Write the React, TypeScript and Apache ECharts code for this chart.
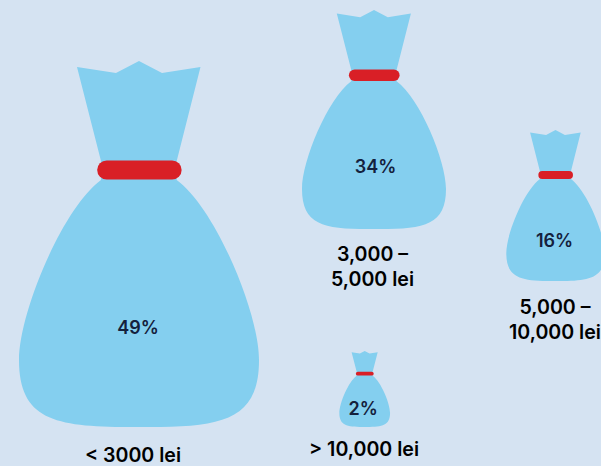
import React, { useEffect, useRef } from "react";
import * as echarts from "echarts";

// Monthly income brackets and the share of respondents in each
const categories = ["< 3000 lei", "3,000 –\n5,000 lei", "5,000 –\n10,000 lei", "> 10,000 lei"];
const shares = [49, 34, 16, 2];

// Placement of each money bag, in page pixels
const bagCenterX = [139, 374, 555.5, 364.7];
const bagTopY = [61, 10, 130, 351];
const bagWidth = [240, 144, 98.4, 50.7];
const bagHeight = [366, 219, 151, 76];
const shareLabelDy = [72.7, 71.4, 73, 75];
const shareLabelDx = [-1, 1.5, -1, -1.5];

// Placement of the bracket captions
const captionX = [133, 372.5, 555, 364];
const captionY = [455, 266.5, 319, 449];

const BAG_PATH =
  "path://M58,6 L97,12 L120,0 L143,12 L181.5,6 L157.7,100 L157.7,119 " +
  "C197,148 240,252 240,299 C240,358 205,366 130,366 L110,366 " +
  "C35,366 0,358 0,299 C0,252 43,148 82,119 L82,100 Z";
const TIE_PATH = "path://M9.5,0 L75,0 A9.5,9.5 0 0 1 75,19 L9.5,19 A9.5,9.5 0 0 1 9.5,0 Z";

const FONT = "Inter";

export default function App() {
  const ref = useRef<HTMLDivElement>(null);

  useEffect(() => {
    const chart = echarts.init(ref.current!, undefined, { renderer: "svg" });
    chart.setOption({
      animation: false,
      backgroundColor: "#D5E3F2",
      grid: { left: 0, right: 0, top: 0, bottom: 0 },
      xAxis: { type: "value", min: 0, max: 601, show: false },
      yAxis: { type: "value", min: 0, max: 466, inverse: true, show: false },
      series: [
        {
          type: "scatter",
          name: "Bags",
          clip: false,
          symbol: BAG_PATH,
          itemStyle: { color: "#84CFEF", opacity: 1 },
          data: shares.map((share, i) => ({
            value: [bagCenterX[i], bagTopY[i] + bagHeight[i] / 2, share],
            symbolSize: [bagWidth[i], bagHeight[i]],
            label: {
              show: true,
              position: [`${50 + (shareLabelDx[i] / bagWidth[i]) * 100}%`, `${shareLabelDy[i]}%`],
              align: "center",
              verticalAlign: "middle",
              formatter: `${share}%`,
              color: "#14213D",
              fontFamily: FONT,
              fontWeight: 600,
              fontSize: 18,
            },
          })),
        },
        {
          type: "scatter",
          name: "Ties",
          clip: false,
          symbol: TIE_PATH,
          itemStyle: { color: "#D91F26", opacity: 1 },
          data: shares.map((share, i) => ({
            value: [bagCenterX[i] + 0.4 * (bagWidth[i] / 240), bagTopY[i] + bagHeight[i] * 0.298, share],
            symbolSize: [bagWidth[i] * 0.352, bagHeight[i] * 0.052],
          })),
        },
        {
          type: "scatter",
          name: "Captions",
          clip: false,
          symbol: "circle",
          symbolSize: 1,
          itemStyle: { color: "#D5E3F2", opacity: 0 },
          data: categories.map((name, i) => ({
            value: [captionX[i], captionY[i]],
            label: {
              show: true,
              position: "inside",
              formatter: name,
              color: "#000000",
              opacity: 1,
              fontFamily: FONT,
              fontWeight: 600,
              fontSize: 19.6,
              lineHeight: 25,
              align: "center",
              verticalAlign: "middle",
            },
          })),
        },
      ],
    });
    return () => chart.dispose();
  }, []);

  return <div ref={ref} style={{ position: "fixed", left: 0, top: 0, width: 601, height: 466, overflow: "hidden" }} />;
}
